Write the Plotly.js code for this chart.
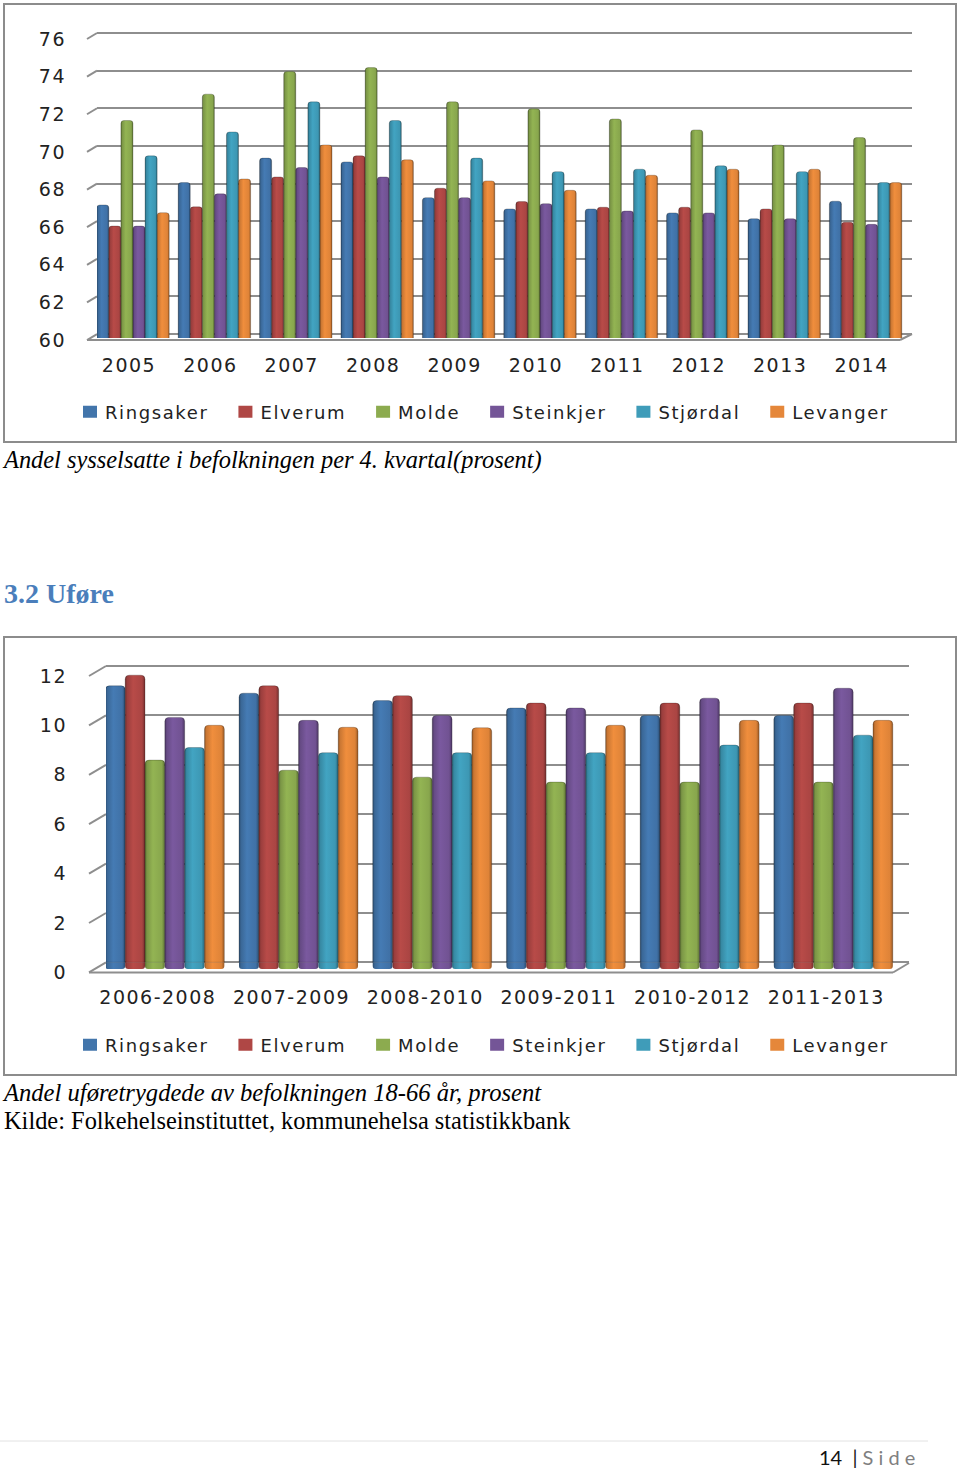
<!DOCTYPE html>
<html>
<head>
<meta charset="utf-8">
<script src="https://cdn.plot.ly/plotly-3.0.1.min.js"></script>
<style>
html,body{margin:0;padding:0;background:#fff;overflow:hidden}
#chart{width:960px;height:1470px}
.xtick text,.ytick text,.x2tick text,.y2tick text{letter-spacing:1.5px}
.legendtext,.legend2text{letter-spacing:1.6px}
</style>
</head>
<body>
<div id="chart"></div>
<script>
const seriesNames = ['Ringsaker','Elverum','Molde','Steinkjer','Stjørdal','Levanger'];
const seriesColors = ['#4275ab','#af4745','#8cab4f','#745597','#3f9cb9','#e5873a'];

const years = ['2005','2006','2007','2008','2009','2010','2011','2012','2013','2014'];
const empRingsaker = [66.86,68.05,69.35,69.15,67.25,66.65,66.65,66.44,66.13,67.06];
const empElverum   = [65.74,66.76,68.35,69.47,67.75,67.04,66.74,66.74,66.65,65.94];
const empMolde     = [71.35,72.75,73.95,74.16,72.34,71.97,71.43,70.85,70.05,70.44];
const empSteinkjer = [65.74,67.45,68.85,68.35,67.25,66.93,66.54,66.44,66.13,65.83];
const empStjordal  = [69.47,70.74,72.34,71.35,69.35,68.63,68.76,68.94,68.63,68.05];
const empLevanger  = [66.45,68.24,70.05,69.26,68.14,67.64,68.44,68.76,68.76,68.05];

const periods = ['2006-2008','2007-2009','2008-2010','2009-2011','2010-2012','2011-2013'];
const disRingsaker = [11.2,10.9,10.6,10.3,10.0,10.0];
const disElverum   = [11.63,11.2,10.8,10.5,10.5,10.5];
const disMolde     = [8.19,7.78,7.5,7.3,7.3,7.3];
const disSteinkjer = [9.92,9.8,10.0,10.3,10.7,11.1];
const disStjordal  = [8.7,8.49,8.49,8.49,8.8,9.2];
const disLevanger  = [9.6,9.52,9.5,9.6,9.8,9.8];

const empSeries = [empRingsaker,empElverum,empMolde,empSteinkjer,empStjordal,empLevanger];
const disSeries = [disRingsaker,disElverum,disMolde,disSteinkjer,disStjordal,disLevanger];

const W = 960, H = 1470;
const px = v => v / W;
const py = v => 1 - v / H;
const FLOOR2 = -0.27;
const axisFont = {family:'"DejaVu Sans", sans-serif', size:19, color:'#222'};
const legendFont = {family:'"DejaVu Sans", sans-serif', size:18, color:'#222'};
const GRID = '#8e8e8e';
const barEdge = {color:'rgba(0,0,0,0.28)', width:0.8};

const traces = [];
seriesNames.forEach((name,i) => {
  traces.push({type:'bar', name, x:years, y:empSeries[i], xaxis:'x', yaxis:'y',
    marker:{color:seriesColors[i], cornerradius:3, line:barEdge}, legend:'legend'});
});
seriesNames.forEach((name,i) => {
  traces.push({type:'bar', name, x:periods, y:disSeries[i], xaxis:'x2', yaxis:'y2', offsetgroup:String(i),
    marker:{color:seriesColors[i], cornerradius:4, line:barEdge}, legend:'legend2'});
  traces.push({type:'bar', name, x:periods, y:periods.map(()=>FLOOR2), xaxis:'x2', yaxis:'y2', offsetgroup:String(i),
    marker:{color:seriesColors[i], cornerradius:3}, showlegend:false, hoverinfo:'skip'});
});

const line = (x0,y0,x1,y1,color,width) => ({type:'line',xref:'paper',yref:'paper',layer:'below',
  x0:px(x0),x1:px(x1),y0:py(y0),y1:py(y1),line:{color:color||GRID,width:width||2}});
const rect = (x0,y0,x1,y1) => ({type:'rect',xref:'paper',yref:'paper',layer:'below',
  x0:px(x0),x1:px(x1),y0:py(y0),y1:py(y1),line:{color:'#8c8c8c',width:2},fillcolor:'rgba(0,0,0,0)'});

const shapes = [rect(4,4,956,442), rect(4,637,956,1075),
  line(0,1441,928,1441,'#e2e2e2',1),
  line(87,340,900,340), line(900,340,912,334),
  line(89,972.5,893,972.5), line(893,972.5,909,963)];
[76,74,72,70,68,66,64,62,60].forEach((t,i) => {
  const g = 33 + i*37.63;
  shapes.push(line(87,g+6,97,g));
});
[12,10,8,6,4,2,0].forEach((t,i) => {
  const g = 666 + i*49.4;
  shapes.push(line(89,g+10,106,g));
});

const serif = '"Liberation Serif", serif';
const note = (text,x,y,size,extra) => Object.assign({
  text, xref:'paper', yref:'paper', x:px(x), y:py(y), xanchor:'left', yanchor:'middle',
  showarrow:false, align:'left', font:{family:serif,size,color:'#000'}}, extra||{});

const annotations = [
  note('<i>Andel sysselsatte i befolkningen per 4. kvartal(prosent)</i>',0,460,24.4),
  note('<b>3.2 Uføre</b>',2,594,28,{font:{family:serif,size:28,color:'#4a7ebb'}}),
  note('<i>Andel uføretrygdede av befolkningen 18-66 år, prosent</i>',0,1092,24.6),
  note('Kilde: Folkehelseinstituttet, kommunehelsa statistikkbank',1.5,1120,24.4),
  note('14\u00a0\u00a0| <span style="color:#7f7f7f">S i d e</span>',817,1457,20,{font:{family:'Lato, sans-serif',size:20,color:'#111'}})
];

const legendBase = {orientation:'h', xref:'paper', yref:'paper', xanchor:'left', yanchor:'middle', itemwidth:37,
  bgcolor:'rgba(0,0,0,0)', font:legendFont, traceorder:'normal', itemclick:false, itemdoubleclick:false};

const layout = {
  width:W, height:H, margin:{l:0,r:0,t:0,b:0,autoexpand:false},
  paper_bgcolor:'#fff', plot_bgcolor:'rgba(0,0,0,0)',
  barmode:'group', bargap:0.11, bargroupgap:0, showlegend:true,
  xaxis:{anchor:'y', domain:[px(97),px(912)], type:'category', range:[-0.442,9.57], categoryorder:'array', categoryarray:years,
    showgrid:false, zeroline:false, showline:false, ticks:'', tickfont:axisFont, ticklabelshift:-4, ticklabelstandoff:14},
  yaxis:{anchor:'x', domain:[py(338),py(31.12)], range:[59.79,76.1], tick0:60, dtick:2, showgrid:true, gridcolor:GRID, gridwidth:2,
    zeroline:false, showline:false, ticks:'', tickfont:axisFont, ticklabelshift:6, ticklabelstandoff:30},
  xaxis2:{anchor:'y2', domain:[px(106),px(909)], type:'category', range:[-0.44,5.566], categoryorder:'array', categoryarray:periods,
    showgrid:false, zeroline:false, showline:false, ticks:'', tickfont:axisFont, ticklabelshift:-7, ticklabelstandoff:15},
  yaxis2:{anchor:'x2', domain:[py(969),py(664.8)], range:[FLOOR2,12.05], tick0:0, dtick:2, showgrid:true, gridcolor:GRID, gridwidth:2,
    zeroline:false, showline:false, ticks:'', tickfont:axisFont, ticklabelshift:10, ticklabelstandoff:38},
  legend:Object.assign({x:px(66.5), y:py(412)},legendBase),
  legend2:Object.assign({x:px(66.5), y:py(1045)},legendBase),
  shapes, annotations
};

function shade(hex,f){
  const n=parseInt(hex.slice(1),16);
  const c=[n>>16,(n>>8)&255,n&255].map(v=>Math.min(255,Math.round(v*f)));
  return 'rgb('+c.join(',')+')';
}

Plotly.newPlot('chart',traces,layout,{displayModeBar:false,staticPlot:true}).then(gd => {
  const svg = gd.querySelector('svg.main-svg');
  const defs = svg.querySelector('defs');
  const NS = 'http://www.w3.org/2000/svg';
  seriesColors.forEach((c,i) => {
    const g = document.createElementNS(NS,'linearGradient');
    g.setAttribute('id','cyl'+i);
    [[0,.62],[.1,.88],[.4,1.05],[.85,.97],[1,.66]].forEach(([o,f]) => {
      const s = document.createElementNS(NS,'stop');
      s.setAttribute('offset',o);
      s.setAttribute('stop-color',shade(c,f));
      g.appendChild(s);
    });
    defs.appendChild(g);
  });
  gd.querySelectorAll('.barlayer .trace.bars').forEach(el => {
    const i = seriesColors.indexOf(el.__data__[0].trace.marker.color);
    el.querySelectorAll('path').forEach(p => { p.style.fill = 'url(#cyl'+i+')'; });
  });
  gd.querySelectorAll('.legendtext,.legend2text').forEach(t => {
    t.setAttribute('x', parseFloat(t.getAttribute('x')) - 8.5);
  });
  gd.querySelectorAll('.legendpoints path').forEach(p => {
    p.setAttribute('d','M7,6H-7V-6H7Z');
    p.style.stroke = 'none';
  });
});
</script>
</body>
</html>
